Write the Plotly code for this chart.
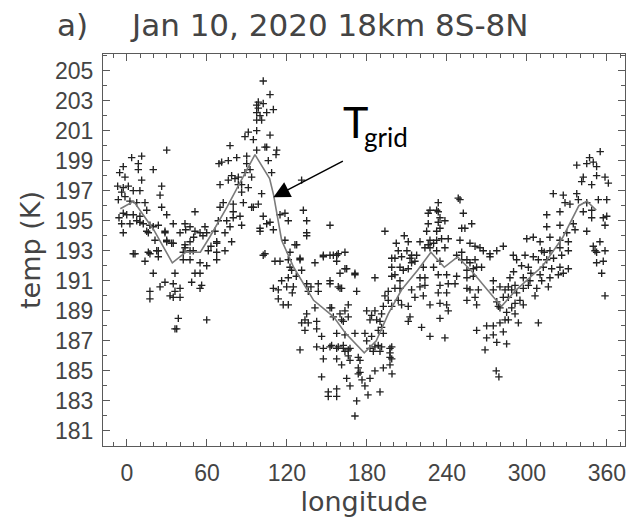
import plotly.graph_objects as go

# ---------------- data ----------------
lon = [
    -2.8, 3.5, 11, 8.5, 8.5, -1.5, 11, -2.8, 1, -4, 4.7, 9.7, -1.5, 2.2, 7.3, -2.8, -0.2, 4.7, 9.7, 13.5,
    14.8, 19.7, 26, 24.8, 26, 29.8, -4, 2.2, -2.8, 7.3, 9.7, 12.2, 17.2, 19.7, 23.5, 14.8, 21, 28.5, 29.8, 33.5,
    34.7, 6, 16, 22.3, 29.8, -7, -6.5, -5.5, -6,
    4.7, 13.5, 17.2, 19.7, 17.2, 17.2, 23.5, 23.5, 24.8, 28.5, 32.3, 34.7, 39.8, 34.7, 39.8, 36, 36, 38.5, 36, 37.3,
    42.2, 47.3, 54.8, 51, 54.8, 48.5, 56, 54.8, 59.8, 59.8, 67.3, 73.5, 78.5, 73.5, 67.3, 43.5, 47.3, 16, 28.5, 34.7, 29.8,
    43.5, 51, 47.3, 51, 54.8, 59.8, 66, 58.5, 67.3, 47.3, 43.5, 42.2, 49.7, 61, 67.3, 39.8,
    102.2, 107.3, 98.5, 97.3, 102.2, 98.5, 97.3, 99.8, 104.8, 109.8, 97.3, 101, 91, 97.3, 88.5, 94.8, 107.3, 77.3, 104.8, 112.3,
    111.8, 97.3, 106, 89.8, 82.3, 76, 71, 69, 89.8, 92.3, 88.5, 78.5, 83.5, 108.5, 93.5, 81, 76, 69.8, 86, 83.5,
    91, 86, 101, 72.2, 79.7, 69.8, 93.5, 87.3, 98.5, 79.7, 79.7, 68.5, 74.8, 84.8, 77.3, 86, 131, 103.5,
    102.2, 104.8, 99.8, 107.3, 109.8, 114.8, 118.5, 121, 134.8, 132.3, 134.8, 127.3, 122.3, 94.8, 152.3, 103.5, 129.8, 147.3, 154.8, 158.5,
    163.5, 99.8, 102.2, 111, 114.8, 121, 122.3, 118.5, 126, 129.8, 123.5, 131, 134.8,
    121, 134.8, 143.5, 152.3, 159.8, 172.3, 109.8, 113.5, 119.8, 124.8, 113.5, 117.2, 121, 136, 143.5, 141, 147.3, 152.3, 157.3, 159.8,
    164.8, 171, 141, 134.8, 131, 133.5, 136, 142.3, 133.5, 142.3, 153.5, 163.5, 166, 161, 146, 129.8, 142.3, 147.3, 152.3, 158.5,
    162.3, 166, 147.3, 157.3, 167.3, 161, 173.5, 173.5, 146, 164.8, 167.3, 151, 157.3, 151, 157.3, 172.3, 171,
    163.5, 158.5, 161, 171, 152.3, 162.3, 154.8, 166, 159.8, 157.3, 163.5, 171, 162.3, 167.3, 166, 173.5, 157.3,
    179.8, 183.5, 186, 191, 187.3, 189.8, 182.3, 178.5, 179.8, 183.5, 188.5, 191, 192.3, 186, 188.5, 184.8, 191, 198.6, 197.3, 198.6,
    186, 193.5, 192.3, 196, 196, 198.6, 201, 204.8, 203.5, 206, 211, 212.3, 211, 221, 213.5, 204.8, 198.6, 201, 207.3, 198.6,
    204.8, 211, 213.5, 198.6, 201, 206, 212.3, 213.5, 217.3, 203.5, 211, 219.8, 223.5, 227.3, 226, 230, 232.3, 227.3, 232.3, 238.5,
    236, 241, 224.8, 232.3, 234.8, 226, 233.5, 234.8, 238.5, 226, 232.3, 227.3, 233.5, 249.8, 252.3, 251.1, 253.5, 258.6, 249.8, 257.3,
    264.8, 267.3, 261.1, 272.3, 277.4, 282.3, 272.3, 251.1, 247.3, 251.1, 255, 261.1, 262.3, 266, 257.3, 259.8, 255, 247.3, 255, 259.8,
    246.1, 255, 257.3, 263.6, 261.1, 255, 262.3, 274.8, 234.8, 233.5, 239.8, 241, 234.8, 233.5, 239.8, 234.8, 239.8, 241, 234.8, 222.3,
    230, 219.8, 223.5, 223.5, 219.8, 216, 222.3, 227.3, 227.3, 238.5, 233.5, 248.5, 193.5, 157.3, 152.3,
    174.8, 176.3, 178.5, 182.3, 186, 192.3, 197.3, 180.8, 174.8, 189.8, 198.8, 182.3, 189.8, 197.3, 197.3, 153.5, 163.5,
    337.4, 344.9, 349.8, 352.3, 352.3, 342.3, 341.1, 348.6, 358.6, 361.1, 319.8, 327.3, 337.4, 328.6, 332.3, 338.6, 344.9, 353.6, 359.9, 324.8,
    342.3, 348.6, 348.6, 357.3, 359.9, 314.9, 314.9, 324.8, 334.8, 336.1, 344.9, 358.6, 329.9, 331.1, 324.8, 317.3, 354.8, 349.8, 351.1, 352.3,
    358.6, 352.3, 357.3, 356.1, 358.6, 299.9, 304.8, 309.9, 311.1, 317.3, 324.8, 326.1, 331.1, 289.8, 298.6, 292.3, 304.8, 308.6, 314.9, 301.1,
    312.3, 318.6, 324.8, 331.1, 323.6, 327.3, 309.9, 317.3, 311.1, 297.3, 302.3, 287.3, 291.1, 288.6, 297.3, 301.1, 307.4, 316.1, 286.1, 283.6,
    279.8, 274.8, 282.3, 286.1, 292.3, 294.8, 306.1, 277.4, 278.6, 279.8, 291.1, 297.3, 288.6, 284.8, 291.1, 269.8, 274.8, 279.8, 283.6, 286.1,
    293.6, 308.6, 274.8, 282.3, 269.8, 277.4, 284.8, 268.6, 262.3, 277, 279, 355, 347,
    44, 50, 57, 63, 116, 124, 127, 138, 290, 296, 303, 313, 320, 210, 216, 202, 208,
]
temp = [
    198.6, 199.2, 199.3, 198.8, 198.4, 197.9, 197.7, 197.2, 197.3, 196.9, 197.0, 197.0, 196.6, 196.3, 196.2, 195.5, 195.4, 195.4, 195.3, 196.2,
    195.7, 198.4, 197.3, 196.7, 195.9, 195.4, 194.8, 194.8, 194.2, 195.0, 194.9, 194.8, 194.7, 194.6, 194.7, 194.3, 193.7, 194.3, 193.6, 193.5,
    194.8, 192.8, 192.9, 193.0, 199.7, 197.3, 196.4, 198.2, 195.2,
    192.8, 192.3, 192.8, 191.5, 190.3, 189.8, 193.0, 192.6, 190.6, 190.9, 190.0, 189.9, 189.9, 190.8, 190.5, 191.5, 190.3, 188.5, 187.8, 187.8,
    192.4, 192.4, 192.2, 191.5, 191.5, 190.9, 190.7, 190.5, 188.4, 192.0, 192.4, 193.0, 193.6, 194.2, 193.5, 193.4, 193.0, 194.2, 194.2, 193.5, 193.7,
    194.8, 195.6, 194.6, 194.3, 194.2, 194.2, 194.3, 194.6, 193.6, 193.6, 193.2, 192.9, 193.0, 193.0, 192.9, 194.2,
    204.3, 203.4, 202.9, 202.7, 202.8, 202.5, 202.2, 202.0, 202.2, 202.4, 201.7, 201.7, 200.9, 201.0, 200.6, 200.4, 200.7, 200.0, 199.9, 199.7,
    199.4, 199.7, 199.0, 199.3, 199.2, 199.0, 198.9, 198.8, 198.8, 198.4, 198.2, 198.0, 197.9, 198.2, 197.9, 197.8, 197.7, 197.4, 197.4, 197.4,
    197.2, 196.9, 196.8, 196.2, 196.1, 195.9, 195.9, 196.2, 196.1, 195.6, 195.2, 195.0, 195.0, 195.3, 194.6, 194.7, 197.7, 199.9,
    195.3, 194.8, 194.5, 194.9, 194.4, 195.4, 195.5, 195.0, 195.0, 195.7, 194.0, 193.4, 192.9, 195.9, 194.7, 192.8, 192.5, 192.6, 192.7, 192.8,
    192.9, 194.3, 192.7, 192.3, 192.3, 192.4, 191.9, 193.7, 193.4, 192.4, 191.7, 191.7, 194.2,
    191.2, 190.8, 190.8, 190.8, 190.5, 190.3, 190.5, 190.4, 190.6, 190.6, 189.8, 189.4, 189.4, 190.3, 190.3, 192.2, 192.7, 192.7, 192.3, 191.5,
    191.8, 191.5, 189.2, 188.8, 188.2, 188.4, 188.2, 188.3, 187.7, 187.8, 189.2, 189.0, 188.6, 188.4, 187.3, 186.4, 186.6, 186.5, 186.6, 186.6,
    186.5, 186.4, 185.8, 185.8, 185.7, 185.4, 185.2, 184.8, 184.6, 184.5, 184.0, 183.6, 183.8, 183.3, 183.3, 183.0, 182.0,
    191.8, 190.6, 190.5, 191.4, 189.2, 188.3, 188.6, 189.4, 188.8, 187.5, 187.4, 187.5, 186.7, 186.5, 186.0, 185.9, 186.5,
    189.0, 188.7, 189.0, 188.8, 188.4, 188.3, 188.4, 187.5, 187.0, 187.3, 187.7, 187.9, 187.5, 186.6, 186.7, 186.3, 186.6, 186.6, 186.2, 185.8,
    191.2, 190.0, 189.3, 190.3, 189.7, 189.3, 190.5, 190.5, 189.7, 189.4, 189.3, 188.6, 188.3, 187.9, 190.4, 191.0, 191.3, 191.4, 191.7, 191.9,
    191.9, 191.8, 192.2, 192.5, 192.5, 192.6, 192.5, 192.7, 192.7, 193.0, 193.6, 193.6, 193.2, 193.2, 193.4, 193.5, 193.7, 193.7, 193.0, 193.2,
    193.8, 193.8, 194.3, 194.3, 194.5, 194.8, 194.9, 195.2, 195.0, 195.5, 195.7, 195.7, 196.2, 196.4, 195.5, 194.5, 194.5, 194.8, 193.7, 193.5,
    193.2, 193.0, 193.3, 192.8, 193.0, 193.3, 192.6, 192.9, 192.7, 192.4, 192.4, 192.4, 191.9, 191.9, 192.2, 191.8, 191.7, 191.3, 191.2, 191.3,
    190.8, 190.5, 190.4, 190.4, 189.9, 189.7, 189.4, 190.4, 192.3, 191.4, 191.4, 190.8, 190.7, 190.2, 190.2, 189.5, 189.4, 189.0, 188.5, 191.9,
    191.9, 191.2, 191.2, 190.7, 190.6, 189.9, 190.0, 189.4, 187.3, 187.2, 195.6, 196.5, 194.3, 192.7, 191.0,
    184.9, 184.4, 184.0, 184.5, 185.0, 185.2, 185.4, 183.4, 185.7, 183.6, 184.8, 186.5, 186.3, 186.5, 185.9, 186.7, 186.3,
    198.7, 198.8, 198.9, 198.6, 198.0, 197.9, 197.6, 197.4, 197.9, 197.5, 196.8, 196.7, 196.8, 196.2, 196.1, 196.4, 196.2, 196.4, 196.4, 195.6,
    195.6, 195.7, 195.2, 195.2, 195.3, 195.4, 194.6, 194.7, 194.8, 194.4, 194.3, 194.7, 194.2, 193.6, 193.7, 193.9, 193.6, 193.3, 193.0, 192.9,
    193.0, 192.2, 192.3, 191.5, 190.0, 193.8, 193.9, 193.6, 193.0, 193.0, 193.2, 192.7, 193.0, 192.7, 192.7, 192.4, 192.6, 192.4, 192.4, 191.9,
    191.9, 191.8, 191.9, 191.8, 191.4, 191.5, 191.4, 191.2, 191.0, 191.2, 191.0, 191.2, 190.7, 190.4, 190.5, 190.7, 190.5, 190.6, 190.6, 190.4,
    190.6, 191.0, 189.9, 189.9, 190.2, 189.7, 190.0, 189.6, 189.3, 189.2, 189.5, 189.4, 189.2, 188.9, 188.8, 188.0, 188.0, 188.2, 188.4, 188.4,
    188.2, 188.2, 187.4, 187.6, 187.2, 186.9, 186.8, 186.4, 187.7, 185.0, 184.6, 199.6, 199.2,
    194.4, 193.9, 194.0, 193.3, 191.0, 190.2, 191.3, 190.6, 191.6, 192.0, 191.5, 192.9, 192.5, 193.0, 192.3, 193.5, 194.0,
]

grid_lon = [-5, 5, 20, 34, 44, 55, 62, 75, 87, 96, 107, 110, 116, 125, 140, 155, 164, 178, 187, 196,
            206, 218, 228, 238, 248, 260, 275, 281, 292, 312, 327, 339, 345, 352]
grid_temp = [195.8, 196.3, 194.4, 192.2, 192.9, 192.9, 193.9, 195.9, 197.9, 199.4, 197.8, 196.7, 193.7, 191.9, 189.7,
             188.6, 187.5, 186.2, 187.0, 188.8, 190.4, 191.7, 192.9, 191.9, 192.6, 191.5, 189.9, 189.3, 190.4, 192.0,
             193.9, 196.0, 196.3, 195.7]

x_tick_labels = [0, 60, 120, 180, 240, 300, 360]
y_tick_labels = [181, 183, 185, 187, 189, 191, 193, 195, 197, 199, 201, 203, 205]

panel_label = "a)"
title_text = "Jan 10, 2020 18km 8S-8N"
arrow_lon, arrow_temp = 109.8, 196.56

# ---------------- figure ----------------
W, H = 636, 519
ML, MR, MT, MB = 103, 11, 54, 73
PW, PH = W - ML - MR, H - MT - MB


def px_x(x):
    return (x - ML) / PW


def px_y(y):
    return (H - MB - y) / PH


AX = "#5a5a5a"
TXT = "#444444"

fig = go.Figure()
fig.add_trace(go.Scatter(
    x=lon, y=temp, mode="markers",
    marker=dict(symbol="cross-thin", size=5.3, color="#222222",
                line=dict(width=1.35, color="#222222")),
    hoverinfo="skip"))
fig.add_trace(go.Scatter(
    x=grid_lon, y=grid_temp, mode="lines",
    line=dict(color="#7a7a7a", width=1.6), hoverinfo="skip"))

axis_common = dict(
    ticks="inside", ticklen=7, tickwidth=1, tickcolor=AX,
    showline=True, linecolor=AX, linewidth=1, mirror="ticks",
    showgrid=False, zeroline=False,
    tickfont=dict(family="Liberation Sans", size=23, color=TXT),
)

fig.update_layout(
    width=W, height=H,
    margin=dict(l=ML, r=MR, t=MT, b=MB, pad=0),
    paper_bgcolor="white", plot_bgcolor="white",
    showlegend=False,
    xaxis=dict(
        range=[-18, 373.6], tickmode="array", tickvals=x_tick_labels,
        ticktext=[str(v) for v in x_tick_labels],
        minor=dict(tickmode="linear", tick0=0, dtick=10, ticklen=4, ticks="inside", tickcolor=AX),
        ticklabelstandoff=6,
        title=dict(text="longitude", font=dict(family="DejaVu Sans", size=27, color=TXT), standoff=3),
        **axis_common),
    yaxis=dict(
        range=[180, 206.1], tickmode="array", tickvals=y_tick_labels,
        ticktext=[str(v) for v in y_tick_labels],
        minor=dict(tickmode="linear", tick0=180, dtick=1, ticklen=4, ticks="inside", tickcolor=AX),
        ticklabelstandoff=4,
        title=dict(text="temp (K)", font=dict(family="DejaVu Sans", size=27, color=TXT), standoff=6),
        **axis_common),
)

fig.add_annotation(xref="paper", yref="paper", x=px_x(55), y=px_y(25),
                   xanchor="left", yanchor="middle", showarrow=False, text=panel_label,
                   font=dict(family="DejaVu Sans", size=31, color=TXT))
fig.add_annotation(xref="paper", yref="paper", x=px_x(128), y=px_y(25),
                   xanchor="left", yanchor="middle", showarrow=False, text=title_text,
                   font=dict(family="DejaVu Sans", size=31, color=TXT))
# T_grid label
fig.add_annotation(xref="paper", yref="paper", x=px_x(341), y=px_y(122),
                   xanchor="left", yanchor="middle", showarrow=False, text="T",
                   font=dict(family="Lato", size=43, color="black"))
fig.add_annotation(xref="paper", yref="paper", x=px_x(362), y=px_y(137),
                   xanchor="left", yanchor="middle", showarrow=False, text="grid",
                   font=dict(family="Lato", size=26, color="black"))
# arrow
fig.add_annotation(x=arrow_lon, y=arrow_temp, xref="x", yref="y", text="",
                   showarrow=True, ax=71, ay=-37, axref="pixel", ayref="pixel",
                   arrowhead=2, arrowsize=2.2, arrowwidth=1.5, arrowcolor="black")

fig.write_html("out.html")
